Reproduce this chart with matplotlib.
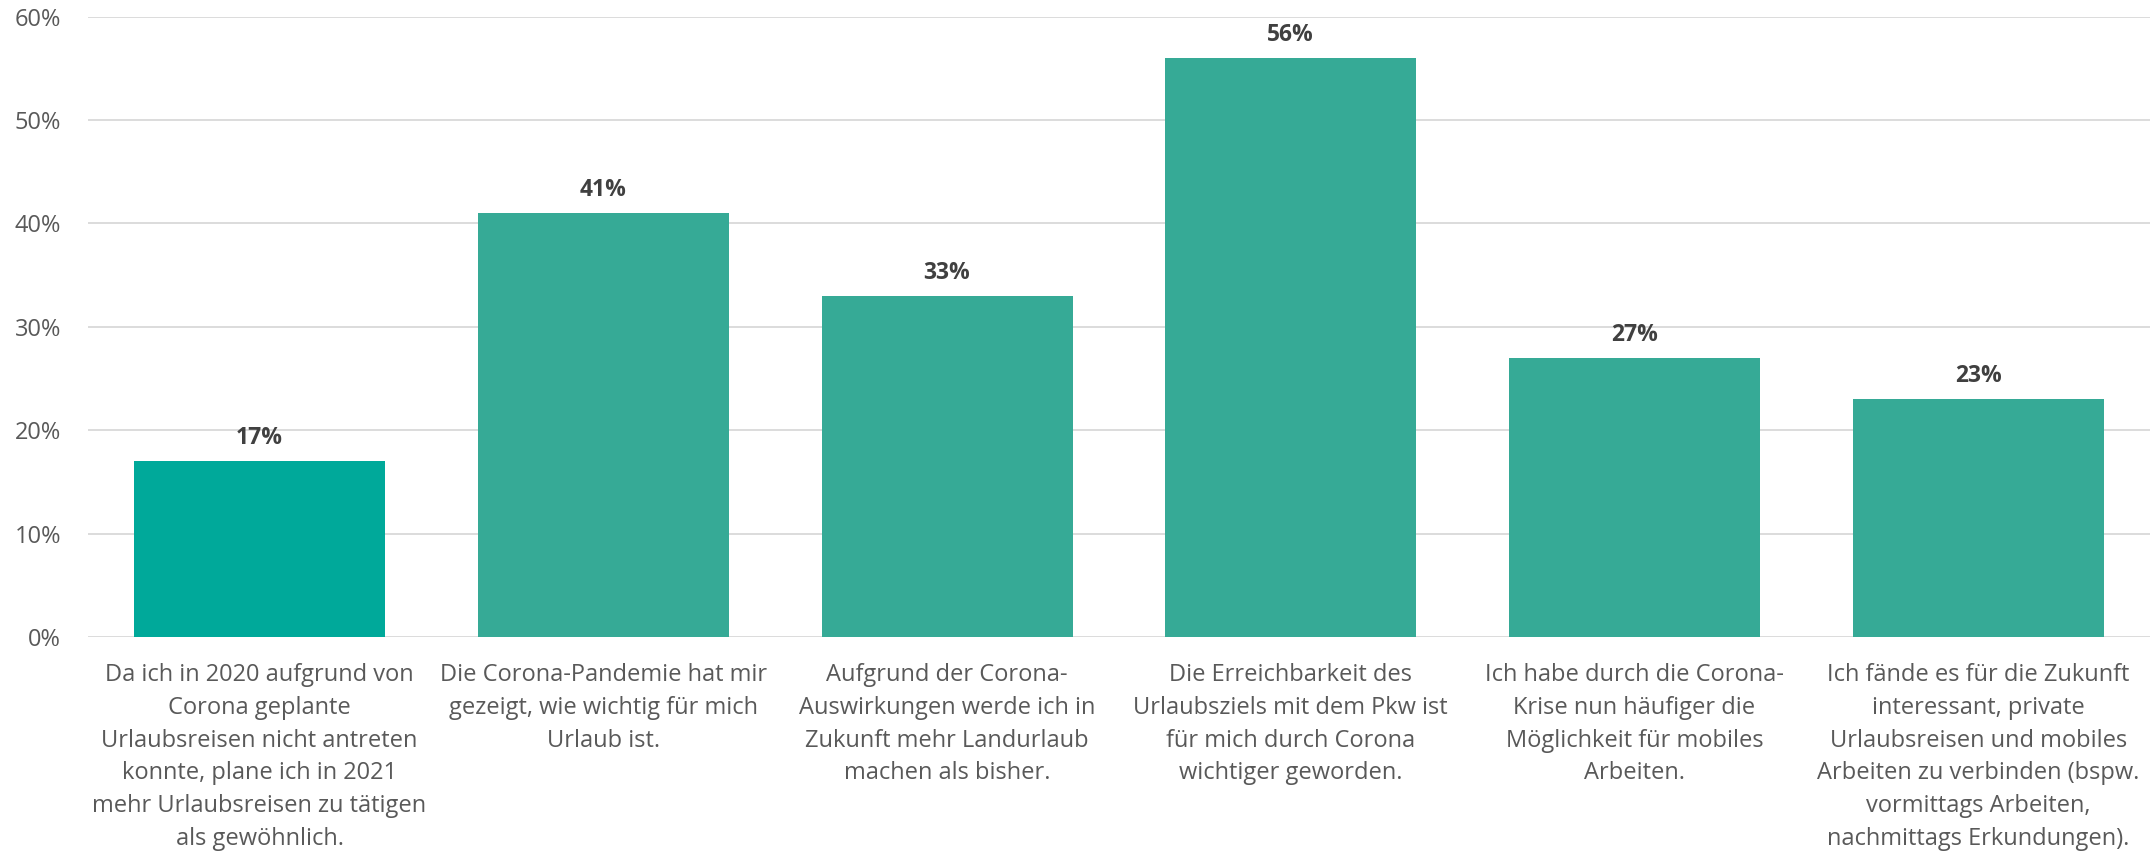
"""
Bar chart: Urlaubsverhalten nach Corona.
"""

import matplotlib.pyplot as plt
from matplotlib.ticker import FuncFormatter

categories = [
    "Da ich in 2020 aufgrund von\nCorona geplante\nUrlaubsreisen nicht antreten\nkonnte, plane ich in 2021\nmehr Urlaubsreisen zu tätigen\nals gewöhnlich.",
    "Die Corona-Pandemie hat mir\ngezeigt, wie wichtig für mich\nUrlaub ist.",
    "Aufgrund der Corona-\nAuswirkungen werde ich in\nZukunft mehr Landurlaub\nmachen als bisher.",
    "Die Erreichbarkeit des\nUrlaubsziels mit dem Pkw ist\nfür mich durch Corona\nwichtiger geworden.",
    "Ich habe durch die Corona-\nKrise nun häufiger die\nMöglichkeit für mobiles\nArbeiten.",
    "Ich fände es für die Zukunft\ninteressant, private\nUrlaubsreisen und mobiles\nArbeiten zu verbinden (bspw.\nvormittags Arbeiten,\nnachmittags Erkundungen).",
]
values = [17, 41, 33, 56, 27, 23]
yticks = [0, 10, 20, 30, 40, 50, 60]

plt.rcParams["font.family"] = ["Open Sans", "DejaVu Sans"]

fig = plt.figure(figsize=(21.53, 8.52), dpi=100)
ax = fig.add_axes([0.0407, 0.2523, 0.958, 0.7283])

colors = ["#00A99A"] + ["#36AA96"] * (len(values) - 1)
x = list(range(len(values)))
bars = ax.bar(x, values, width=0.73, color=colors, zorder=3)

for xi, v in zip(x, values):
    ax.annotate(f"{v}%", (xi, v), xytext=(0, 8), textcoords="offset points",
                ha="center", va="bottom", fontsize=16.5, fontweight="bold",
                color="#404040")

ax.set_xlim(-0.5, len(values) - 0.5)
ax.set_ylim(0, 60)
ax.set_yticks(yticks)
ax.yaxis.set_major_formatter(FuncFormatter(lambda v, p: f"{v:.0f}%"))
ax.grid(axis="y", color="#D9D9D9", linewidth=1.3, zorder=0)
for s in ax.spines.values():
    s.set_visible(False)

ax.set_xticks(x)
ax.set_xticklabels(categories, fontsize=17, color="#595959", linespacing=1.48)
ax.tick_params(axis="x", length=0, pad=19)
ax.tick_params(axis="y", length=0, pad=19, labelsize=17, labelcolor="#595959")

fig.savefig("out.png", dpi=100)
